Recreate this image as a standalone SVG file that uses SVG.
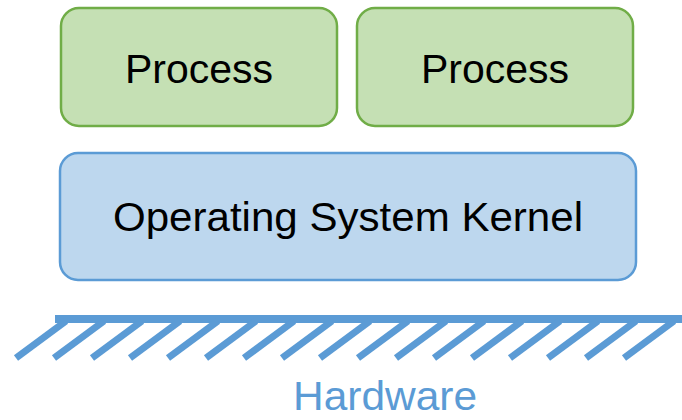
<svg xmlns="http://www.w3.org/2000/svg" width="682" height="420" viewBox="0 0 682 420">
<style>
.proc{fill:#C5E0B4;stroke:#70AD47;stroke-width:2.5}
.kern{fill:#BDD7EE;stroke:#5B9BD5;stroke-width:2.5}
.lbl{font-family:"Liberation Sans",Arial,sans-serif;font-size:41px;fill:#000;text-anchor:middle}
.hw{font-family:"Liberation Sans",Arial,sans-serif;font-size:40px;fill:#5B9BD5;text-anchor:middle}
.hatch line{stroke:#5B9BD5;stroke-width:7}
</style>
<g id="process1">
<rect class="proc" x="61" y="8" width="276" height="118" rx="18"/>
<text class="lbl" x="199" y="83">Process</text>
</g>
<g id="process2">
<rect class="proc" x="357" y="8" width="276" height="118" rx="18"/>
<text class="lbl" x="495" y="83">Process</text>
</g>
<g id="kernel">
<rect class="kern" x="60" y="153" width="576" height="127" rx="18"/>
<text class="lbl" x="348" y="231" textLength="470" lengthAdjust="spacingAndGlyphs">Operating System Kernel</text>
</g>
<g id="hardware">
<rect x="55" y="315" width="627" height="8" fill="#5B9BD5"/>
<g class="hatch">
<line x1="66" y1="321" x2="16" y2="358"/>
<line x1="104" y1="321" x2="54" y2="358"/>
<line x1="142" y1="321" x2="92" y2="358"/>
<line x1="180" y1="321" x2="130" y2="358"/>
<line x1="218" y1="321" x2="168" y2="358"/>
<line x1="256" y1="321" x2="206" y2="358"/>
<line x1="294" y1="321" x2="244" y2="358"/>
<line x1="332" y1="321" x2="282" y2="358"/>
<line x1="370" y1="321" x2="320" y2="358"/>
<line x1="408" y1="321" x2="358" y2="358"/>
<line x1="446" y1="321" x2="396" y2="358"/>
<line x1="484" y1="321" x2="434" y2="358"/>
<line x1="522" y1="321" x2="472" y2="358"/>
<line x1="560" y1="321" x2="510" y2="358"/>
<line x1="598" y1="321" x2="548" y2="358"/>
<line x1="636" y1="321" x2="586" y2="358"/>
<line x1="674" y1="321" x2="624" y2="358"/>
</g>
<text class="hw" x="385" y="410" textLength="184" lengthAdjust="spacingAndGlyphs">Hardware</text>
</g>
</svg>
